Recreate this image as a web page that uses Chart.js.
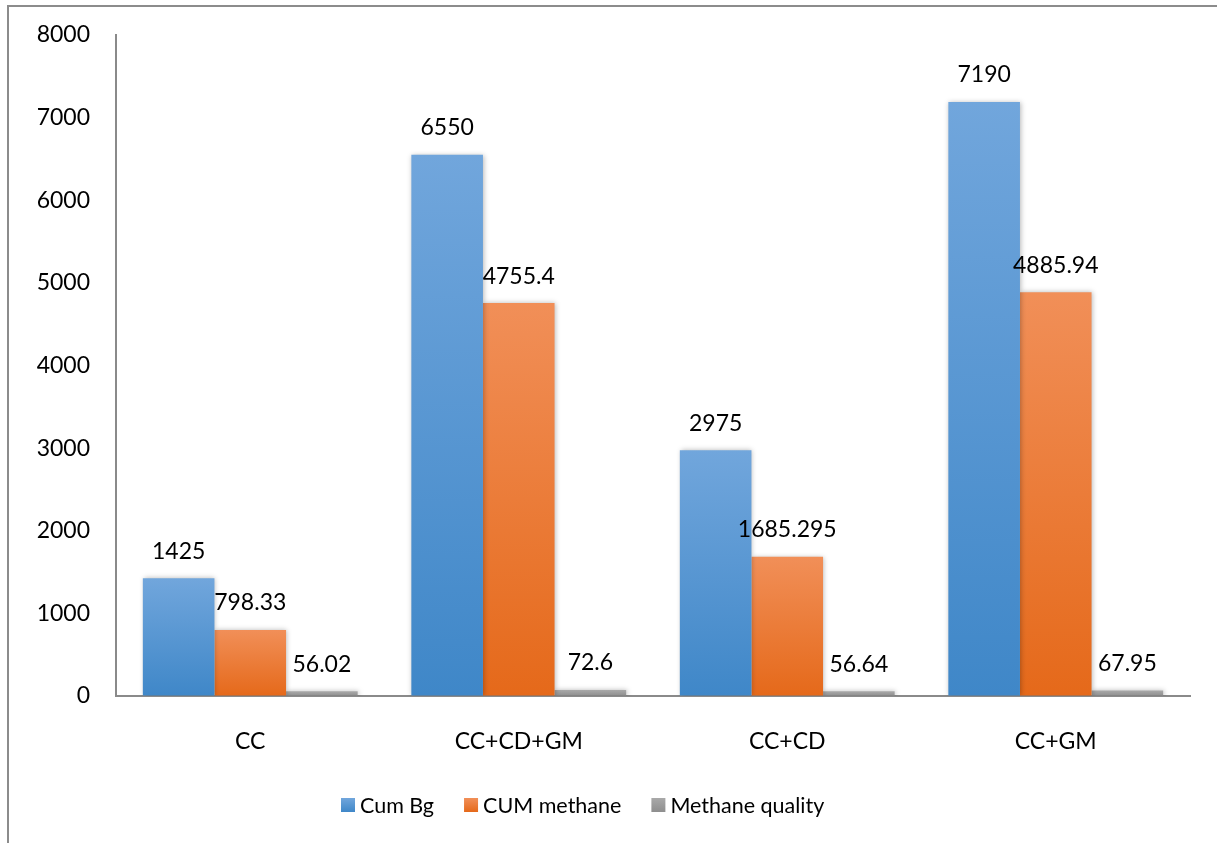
<!DOCTYPE html>
<html>
<head>
<meta charset="utf-8">
<script src="https://cdn.jsdelivr.net/npm/chart.js@4.4.0/dist/chart.umd.min.js"></script>
<style>
  html, body { margin: 0; padding: 0; background: #ffffff; }
  #wrap { position: relative; width: 1217px; height: 843px; }
</style>
</head>
<body>
<div id="wrap"><canvas id="chart" width="1217" height="843"></canvas></div>
<script>
// Mixtures tested
const categories = ['CC', 'CC+CD+GM', 'CC+CD', 'CC+GM'];

// Series values
const cumBg = [1425, 6550, 2975, 7190];
const cumMethane = [798.33, 4755.4, 1685.295, 4885.94];
const methaneQuality = [56.02, 72.6, 56.64, 67.95];

// Printed labels for each series
const cumBgLabels = ['1425', '6550', '2975', '7190'];
const cumMethaneLabels = ['798.33', '4755.4', '1685.295', '4885.94'];
const methaneQualityLabels = ['56.02', '72.6', '56.64', '67.95'];

const seriesNames = ['Cum Bg', 'CUM methane', 'Methane quality'];

const FONT = 'Lato, "Open Sans", sans-serif';
const AXIS_GREY = '#8a8a8a';

// top / bottom colour of each series' vertical gradient
const palettes = [
  ['#71a6dc', '#3f87c8'],
  ['#f18f58', '#e5691a'],
  ['#a9a9a9', '#8e8e8e']
];

function barGradient(idx) {
  return function (ctx) {
    const chart = ctx.chart;
    const yScale = chart.scales.y;
    if (!yScale || ctx.type !== 'data' || ctx.parsed == null) return palettes[idx][1];
    const top = yScale.getPixelForValue(ctx.parsed.y);
    const base = yScale.getPixelForValue(0);
    if (!isFinite(top) || !isFinite(base) || base - top < 1) return palettes[idx][1];
    const g = chart.ctx.createLinearGradient(0, top, 0, base);
    g.addColorStop(0, palettes[idx][0]);
    g.addColorStop(1, palettes[idx][1]);
    return g;
  };
}

const valueLabels = [cumBgLabels, cumMethaneLabels, methaneQualityLabels];

// Frame lines along the top and left edges
const framePlugin = {
  id: 'frame',
  beforeDraw(chart) {
    const c = chart.ctx;
    c.save();
    c.strokeStyle = '#8c8c8c';
    c.lineWidth = 2;
    c.beginPath();
    c.moveTo(8, 843);
    c.lineTo(8, 6);
    c.lineTo(1217, 6);
    c.stroke();
    c.restore();
  }
};

// Soft shadow behind the bars
const shadowPlugin = {
  id: 'barShadow',
  beforeDatasetsDraw(chart) {
    const c = chart.ctx;
    c.save();
    c.shadowColor = 'rgba(0,0,0,0.28)';
    c.shadowBlur = 5;
    c.shadowOffsetX = 1;
    c.shadowOffsetY = 0;
  },
  afterDatasetsDraw(chart) {
    chart.ctx.restore();
  }
};

// Value written above each bar
const valueLabelPlugin = {
  id: 'valueLabels',
  afterDatasetsDraw(chart) {
    const c = chart.ctx;
    c.save();
    c.shadowColor = 'transparent';
    c.font = '23px ' + FONT;
    c.fillStyle = '#000000';
    c.textAlign = 'center';
    c.textBaseline = 'middle';
    chart.data.datasets.forEach((ds, di) => {
      const meta = chart.getDatasetMeta(di);
      meta.data.forEach((bar, i) => {
        c.fillText(valueLabels[di][i], bar.x, bar.y - 27);
      });
    });
    c.restore();
  }
};

// Legend row under the axis
const legendPlugin = {
  id: 'bottomLegend',
  afterDraw(chart) {
    const c = chart.ctx;
    c.save();
    c.font = '21.5px ' + FONT;
    c.textBaseline = 'middle';
    c.textAlign = 'left';
    let x = 341;
    const y = 805;
    chart.data.datasets.forEach((ds, di) => {
      const g = c.createLinearGradient(0, y - 7, 0, y + 7);
      g.addColorStop(0, palettes[di][0]);
      g.addColorStop(1, palettes[di][1]);
      c.fillStyle = g;
      c.fillRect(x, y - 7, 14, 14);
      x += 19;
      c.fillStyle = '#000000';
      c.fillText(ds.label, x, y + 1);
      x += c.measureText(ds.label).width + 30;
    });
    c.restore();
  }
};

new Chart(document.getElementById('chart'), {
  type: 'bar',
  data: {
    labels: categories,
    datasets: [
      { label: seriesNames[0], data: cumBg, backgroundColor: barGradient(0) },
      { label: seriesNames[1], data: cumMethane, backgroundColor: barGradient(1) },
      { label: seriesNames[2], data: methaneQuality, backgroundColor: barGradient(2) }
    ]
  },
  options: {
    responsive: false,
    animation: false,
    devicePixelRatio: 1,
    datasets: {
      bar: { categoryPercentage: 0.8, barPercentage: 1.0, borderWidth: 0 }
    },
    layout: { padding: { top: 35, right: 27, left: 0, bottom: 0 } },
    plugins: {
      legend: { display: false },
      tooltip: { enabled: false },
      title: { display: false }
    },
    scales: {
      x: {
        grid: { display: false, drawTicks: false },
        border: { display: true, color: AXIS_GREY, width: 2 },
        ticks: { color: '#000000', font: { family: FONT, size: 23 }, padding: 32 },
        afterFit(scale) { scale.height = 843 - 696; }
      },
      y: {
        min: 0,
        max: 8000,
        grid: {
          display: true,
          drawOnChartArea: false,
          drawTicks: true,
          tickLength: 26,
          tickColor: 'rgba(0,0,0,0)'
        },
        border: { display: true, color: AXIS_GREY, width: 2 },
        ticks: {
          stepSize: 1000,
          color: '#000000',
          font: { family: FONT, size: 23 },
          padding: 0,
          callback: (v) => String(v)
        },
        afterFit(scale) { scale.width = 116; }
      }
    }
  },
  plugins: [framePlugin, shadowPlugin, valueLabelPlugin, legendPlugin]
});
</script>
</body>
</html>
